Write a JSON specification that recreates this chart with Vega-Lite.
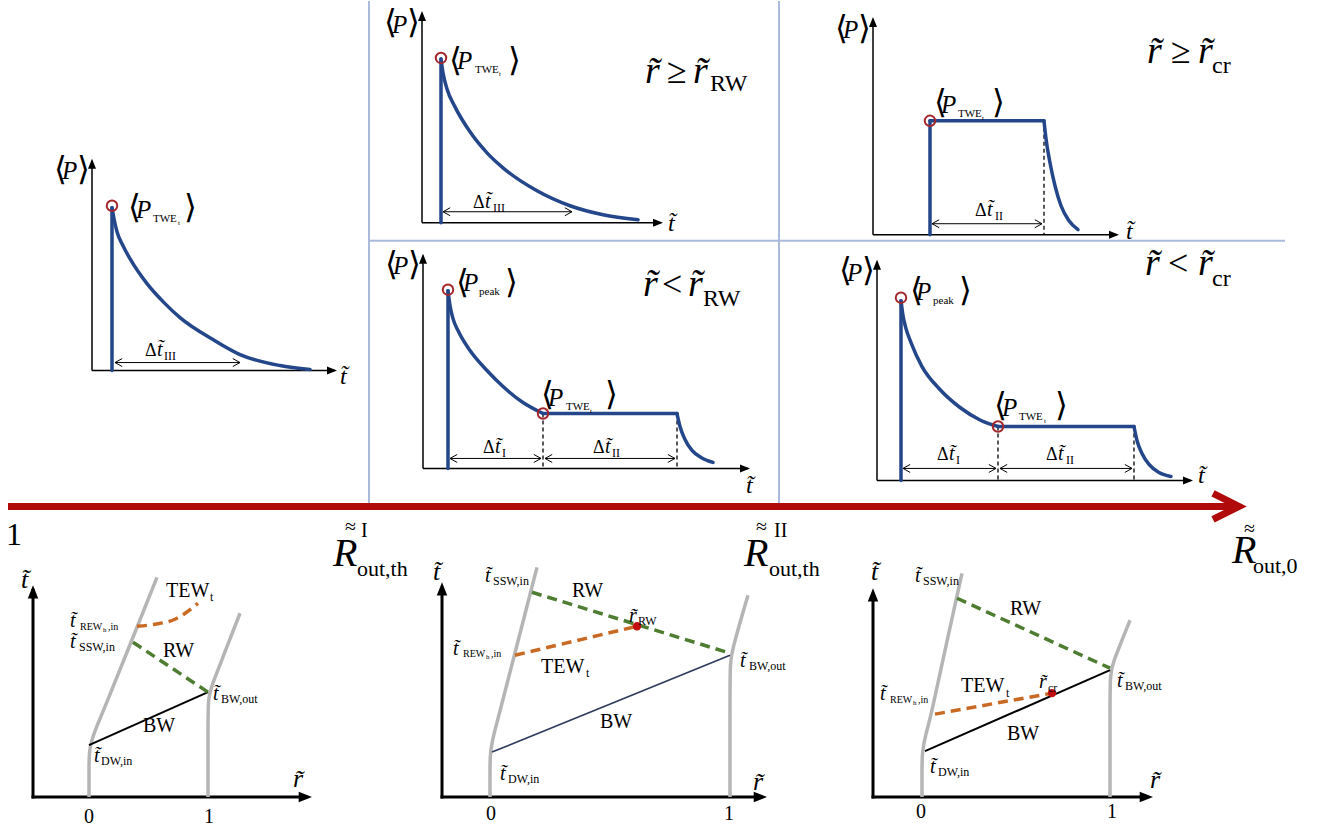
{
"$schema": "https://vega.github.io/schema/vega-lite/v6.json",
"width": 1320, "height": 827,
"autosize": {"type": "fit", "contains": "padding"},
"padding": 0,
"background": "white",
"config": {"view": {"stroke": null}},
"encoding": {
  "x": {"field": "x", "type": "quantitative", "scale": {"domain": [0, 1320], "nice": false, "zero": false}, "axis": null},
  "y": {"field": "y", "type": "quantitative", "scale": {"domain": [0, 827], "nice": false, "zero": false, "reverse": true}, "axis": null}
},
"datasets": {
  "sep": [{"x":369,"y":0,"x2":369,"y2":504},{"x":779,"y":0,"x2":779,"y2":504},{"x":369,"y":240,"x2":1285,"y2":240}],
  "redline": [{"x":8,"y":506,"x2":1234,"y2":506}],
  "redhead": [{"s":1,"o":1,"x":1213,"y":493},{"s":1,"o":2,"x":1239,"y":506},{"s":1,"o":3,"x":1213,"y":519}],
  "thinaxes": [
    {"x":92,"y":370,"x2":92,"y2":160},{"x":92,"y":370,"x2":335,"y2":370},
    {"x":422,"y":222,"x2":422,"y2":12},{"x":422,"y":222,"x2":661,"y2":222},
    {"x":873,"y":234,"x2":873,"y2":18},{"x":873,"y":234,"x2":1117,"y2":234},
    {"x":423,"y":468,"x2":423,"y2":255},{"x":423,"y":468,"x2":748,"y2":468},
    {"x":877,"y":480,"x2":877,"y2":261},{"x":877,"y":480,"x2":1191,"y2":480}],
  "uptop": [{"x":92,"y":158},{"x":422,"y":10},{"x":873,"y":16},{"x":423,"y":253},{"x":877,"y":259}],
  "righttop": [{"x":337,"y":370},{"x":663,"y":222},{"x":1119,"y":234},{"x":750,"y":468},{"x":1193,"y":480}],
  "blue": [
    {"s":1,"o":1,"x":112,"y":370},{"s":1,"o":2,"x":112,"y":207},
    {"s":2,"o":1,"x":112,"y":207},{"s":2,"o":2,"x":114,"y":218},{"s":2,"o":3,"x":117,"y":231},{"s":2,"o":4,"x":123,"y":245},{"s":2,"o":5,"x":130,"y":258},{"s":2,"o":6,"x":147,"y":283},{"s":2,"o":7,"x":165,"y":303},{"s":2,"o":8,"x":180,"y":317},{"s":2,"o":9,"x":213,"y":339},{"s":2,"o":10,"x":240,"y":354},{"s":2,"o":11,"x":280,"y":365},{"s":2,"o":12,"x":310,"y":369},
    {"s":3,"o":1,"x":441,"y":222},{"s":3,"o":2,"x":441,"y":58},
    {"s":4,"o":1,"x":441,"y":58},{"s":4,"o":2,"x":443,"y":72},{"s":4,"o":3,"x":447,"y":88},{"s":4,"o":4,"x":455,"y":106},{"s":4,"o":5,"x":470,"y":131},{"s":4,"o":6,"x":487,"y":152},{"s":4,"o":7,"x":503,"y":167},{"s":4,"o":8,"x":537,"y":190},{"s":4,"o":9,"x":570,"y":205},{"s":4,"o":10,"x":603,"y":214},{"s":4,"o":11,"x":638,"y":219},
    {"s":5,"o":1,"x":930,"y":234},{"s":5,"o":2,"x":930,"y":120},
    {"s":6,"o":1,"x":930,"y":120},{"s":6,"o":2,"x":1044,"y":120},
    {"s":7,"o":1,"x":1044,"y":120},{"s":7,"o":2,"x":1046,"y":138},{"s":7,"o":3,"x":1050,"y":162},{"s":7,"o":4,"x":1055,"y":185},{"s":7,"o":5,"x":1061,"y":205},{"s":7,"o":6,"x":1069,"y":220},{"s":7,"o":7,"x":1078,"y":229},
    {"s":8,"o":1,"x":448,"y":468},{"s":8,"o":2,"x":448,"y":290},
    {"s":9,"o":1,"x":448,"y":290},{"s":9,"o":2,"x":450,"y":305},{"s":9,"o":3,"x":453,"y":318},{"s":9,"o":4,"x":458,"y":330},{"s":9,"o":5,"x":470,"y":350},{"s":9,"o":6,"x":487,"y":370},{"s":9,"o":7,"x":503,"y":386},{"s":9,"o":8,"x":523,"y":402},{"s":9,"o":9,"x":543,"y":413},
    {"s":10,"o":1,"x":543,"y":413},{"s":10,"o":2,"x":677,"y":413},
    {"s":11,"o":1,"x":677,"y":413},{"s":11,"o":2,"x":680,"y":426},{"s":11,"o":3,"x":685,"y":439},{"s":11,"o":4,"x":692,"y":450},{"s":11,"o":5,"x":701,"y":457},{"s":11,"o":6,"x":713,"y":462},
    {"s":12,"o":1,"x":901,"y":480},{"s":12,"o":2,"x":901,"y":300},
    {"s":13,"o":1,"x":901,"y":300},{"s":13,"o":2,"x":903,"y":315},{"s":13,"o":3,"x":906,"y":328},{"s":13,"o":4,"x":911,"y":342},{"s":13,"o":5,"x":922,"y":366},{"s":13,"o":6,"x":939,"y":388},{"s":13,"o":7,"x":960,"y":407},{"s":13,"o":8,"x":981,"y":420},{"s":13,"o":9,"x":998,"y":426},
    {"s":14,"o":1,"x":998,"y":426},{"s":14,"o":2,"x":1134,"y":426},
    {"s":15,"o":1,"x":1134,"y":426},{"s":15,"o":2,"x":1137,"y":440},{"s":15,"o":3,"x":1142,"y":453},{"s":15,"o":4,"x":1149,"y":464},{"s":15,"o":5,"x":1159,"y":472},{"s":15,"o":6,"x":1171,"y":476}],
  "dashv": [{"x":1044,"y":120,"x2":1044,"y2":234},{"x":543,"y":413,"x2":543,"y2":468},{"x":677,"y":413,"x2":677,"y2":468},{"x":998,"y":426,"x2":998,"y2":480},{"x":1134,"y":426,"x2":1134,"y2":480}],
  "darrows": [{"x":115,"y":362,"x2":240,"y2":362},{"x":443,"y":211,"x2":572,"y2":211},{"x":932,"y":223,"x2":1042,"y2":223},{"x":450,"y":458,"x2":541,"y2":458},{"x":545,"y":458,"x2":675,"y2":458},{"x":903,"y":468,"x2":996,"y2":468},{"x":1000,"y":468,"x2":1132,"y2":468}],
  "lchev": [{"x":115,"y":362},{"x":443,"y":211},{"x":932,"y":223},{"x":450,"y":458},{"x":545,"y":458},{"x":903,"y":468},{"x":1000,"y":468}],
  "rchev": [{"x":240,"y":362},{"x":572,"y":211},{"x":1042,"y":223},{"x":541,"y":458},{"x":675,"y":458},{"x":996,"y":468},{"x":1132,"y":468}],
  "circles": [{"x":112,"y":205},{"x":441,"y":57},{"x":930,"y":120},{"x":448,"y":289},{"x":543,"y":413},{"x":901,"y":297},{"x":998,"y":426}],
  "thickaxes": [{"x":33,"y":797,"x2":33,"y2":590},{"x":33,"y":797,"x2":306,"y2":797},{"x":442,"y":797,"x2":442,"y2":588},{"x":442,"y":797,"x2":761,"y2":797},{"x":873,"y":797,"x2":873,"y2":594},{"x":873,"y":797,"x2":1147,"y2":797}],
  "upbot": [{"x":33,"y":585},{"x":442,"y":582},{"x":873,"y":588}],
  "rightbot": [{"x":312,"y":797},{"x":767,"y":797},{"x":1153,"y":797}],
  "gray": [
    {"s":1,"o":1,"x":89,"y":797},{"s":1,"o":2,"x":89,"y":770},{"s":1,"o":3,"x":89,"y":748},{"s":1,"o":4,"x":95,"y":730},{"s":1,"o":5,"x":105,"y":707},{"s":1,"o":6,"x":131,"y":642},{"s":1,"o":7,"x":157,"y":577},
    {"s":2,"o":1,"x":208,"y":797},{"s":2,"o":2,"x":208,"y":730},{"s":2,"o":3,"x":208,"y":697},{"s":2,"o":4,"x":212,"y":685},{"s":2,"o":5,"x":226,"y":649},{"s":2,"o":6,"x":240,"y":613},
    {"s":3,"o":1,"x":490,"y":797},{"s":3,"o":2,"x":490,"y":770},{"s":3,"o":3,"x":490,"y":753},{"s":3,"o":4,"x":494,"y":733},{"s":3,"o":5,"x":499,"y":715},{"s":3,"o":6,"x":518,"y":641},{"s":3,"o":7,"x":537,"y":567},
    {"s":4,"o":1,"x":730,"y":797},{"s":4,"o":2,"x":730,"y":700},{"s":4,"o":3,"x":730,"y":660},{"s":4,"o":4,"x":733,"y":648},{"s":4,"o":5,"x":740,"y":622},{"s":4,"o":6,"x":748,"y":595},
    {"s":5,"o":1,"x":922,"y":797},{"s":5,"o":2,"x":922,"y":770},{"s":5,"o":3,"x":922,"y":752},{"s":5,"o":4,"x":926,"y":733},{"s":5,"o":5,"x":931,"y":716},{"s":5,"o":6,"x":946,"y":645},{"s":5,"o":7,"x":962,"y":573},
    {"s":6,"o":1,"x":1110,"y":797},{"s":6,"o":2,"x":1110,"y":710},{"s":6,"o":3,"x":1110,"y":672},{"s":6,"o":4,"x":1114,"y":660},{"s":6,"o":5,"x":1122,"y":640},{"s":6,"o":6,"x":1130,"y":620}],
  "bw": [{"x":89,"y":745,"x2":208,"y2":692},{"x":925,"y":751,"x2":1110,"y2":670}],
  "bw2": [{"x":492,"y":752,"x2":730,"y2":655}],
  "green": [{"x":133,"y":642,"x2":208,"y2":692},{"x":532,"y":592,"x2":730,"y2":653},{"x":957,"y":598,"x2":1110,"y2":668}],
  "orange": [
    {"s":1,"o":1,"x":137,"y":626},{"s":1,"o":2,"x":155,"y":624},{"s":1,"o":3,"x":175,"y":619},{"s":1,"o":4,"x":198,"y":603},
    {"s":2,"o":1,"x":515,"y":655},{"s":2,"o":2,"x":637,"y":626},
    {"s":3,"o":1,"x":935,"y":714},{"s":3,"o":2,"x":1052,"y":693}],
  "reddots": [{"x":637,"y":626},{"x":1052,"y":693}],
  "t_it25": [{"x":62,"y":178,"t":"P"},{"x":392,"y":32,"t":"P"},{"x":843,"y":37,"t":"P"},{"x":393,"y":273,"t":"P"},{"x":847,"y":280,"t":"P"},
    {"x":136,"y":217,"t":"P"},{"x":457,"y":68,"t":"P"},{"x":941,"y":112,"t":"P"},{"x":548,"y":405,"t":"P"},{"x":1002,"y":416,"t":"P"},
    {"x":463,"y":290,"t":"P"},{"x":916,"y":299,"t":"P"}],
  "t_br": [{"x":54,"y":169,"t":"\u27e8"},{"x":77,"y":169,"t":"\u27e9"},{"x":384,"y":22,"t":"\u27e8"},{"x":407,"y":22,"t":"\u27e9"},{"x":835,"y":28,"t":"\u27e8"},{"x":858,"y":28,"t":"\u27e9"},{"x":385,"y":264,"t":"\u27e8"},{"x":408,"y":264,"t":"\u27e9"},{"x":839,"y":270,"t":"\u27e8"},{"x":862,"y":270,"t":"\u27e9"},
    {"x":128,"y":207,"t":"\u27e8"},{"x":184,"y":207,"t":"\u27e9"},{"x":449,"y":60,"t":"\u27e8"},{"x":508,"y":60,"t":"\u27e9"},{"x":934,"y":102,"t":"\u27e8"},{"x":992,"y":102,"t":"\u27e9"},{"x":541,"y":394,"t":"\u27e8"},{"x":605,"y":394,"t":"\u27e9"},{"x":994,"y":405,"t":"\u27e8"},{"x":1055,"y":405,"t":"\u27e9"},
    {"x":456,"y":282,"t":"\u27e8"},{"x":505,"y":282,"t":"\u27e9"},{"x":910,"y":290,"t":"\u27e8"},{"x":959,"y":290,"t":"\u27e9"}],
  "t_sub11": [{"x":153,"y":221,"t":"TWE"},{"x":475,"y":72,"t":"TWE"},{"x":958,"y":116,"t":"TWE"},{"x":566,"y":409,"t":"TWE"},{"x":1019,"y":420,"t":"TWE"},{"x":479,"y":294,"t":"peak"},{"x":933,"y":303,"t":"peak"}],
  "t_tiny": [{"x":178,"y":224,"t":"t"},{"x":499,"y":75,"t":"t"},{"x":982,"y":119,"t":"t"},{"x":590,"y":412,"t":"t"},{"x":1044,"y":423,"t":"t"},{"x":103,"y":632,"t":"h"},{"x":486,"y":659,"t":"h"},{"x":913,"y":705,"t":"h"}],
  "t_delta": [{"x":145,"y":355,"t":"\u0394"},{"x":473,"y":207,"t":"\u0394"},{"x":975,"y":215,"t":"\u0394"},{"x":483,"y":453,"t":"\u0394"},{"x":593,"y":453,"t":"\u0394"},{"x":937,"y":460,"t":"\u0394"},{"x":1046,"y":460,"t":"\u0394"}],
  "t_it20": [{"x":157,"y":355,"t":"t\u0303"},{"x":485,"y":207,"t":"t\u0303"},{"x":987,"y":215,"t":"t\u0303"},{"x":495,"y":453,"t":"t\u0303"},{"x":605,"y":453,"t":"t\u0303"},{"x":949,"y":460,"t":"t\u0303"},{"x":1058,"y":460,"t":"t\u0303"},
    {"x":70,"y":627,"t":"t\u0303"},{"x":70,"y":648,"t":"t\u0303"},{"x":213,"y":700,"t":"t\u0303"},{"x":94,"y":762,"t":"t\u0303"},
    {"x":485,"y":582,"t":"t\u0303"},{"x":453,"y":655,"t":"t\u0303"},{"x":740,"y":667,"t":"t\u0303"},{"x":500,"y":780,"t":"t\u0303"},
    {"x":915,"y":582,"t":"t\u0303"},{"x":880,"y":700,"t":"t\u0303"},{"x":1117,"y":687,"t":"t\u0303"},{"x":930,"y":773,"t":"t\u0303"},
    {"x":629,"y":622,"t":"r\u0303"},{"x":1039,"y":688,"t":"r\u0303"}],
  "t_sub12": [{"x":164,"y":359,"t":"III"},{"x":493,"y":211,"t":"III"},{"x":995,"y":219,"t":"II"},{"x":502,"y":457,"t":"I"},{"x":612,"y":457,"t":"II"},{"x":956,"y":464,"t":"I"},{"x":1066,"y":464,"t":"II"},
    {"x":79,"y":651,"t":"SSW,in"},{"x":221,"y":703,"t":"BW,out"},{"x":101,"y":765,"t":"DW,in"},{"x":210,"y":601,"t":"t"},
    {"x":493,"y":585,"t":"SSW,in"},{"x":638,"y":625,"t":"RW"},{"x":586,"y":677,"t":"t"},{"x":749,"y":670,"t":"BW,out"},{"x":508,"y":783,"t":"DW,in"},
    {"x":923,"y":585,"t":"SSW,in"},{"x":1006,"y":697,"t":"t"},{"x":1048,"y":692,"t":"cr"},{"x":1125,"y":690,"t":"BW,out"},{"x":938,"y":776,"t":"DW,in"}],
  "t_sub10": [{"x":80,"y":630,"t":"REW"},{"x":108,"y":630,"t":",in"},{"x":463,"y":657,"t":"REW"},{"x":491,"y":657,"t":",in"},{"x":890,"y":703,"t":"REW"},{"x":918,"y":703,"t":",in"}],
  "t_it24": [{"x":340,"y":383,"t":"t\u0303"},{"x":668,"y":230,"t":"t\u0303"},{"x":1126,"y":238,"t":"t\u0303"},{"x":746,"y":493,"t":"t\u0303"},{"x":1198,"y":483,"t":"t\u0303"}],
  "t_it26": [{"x":21,"y":588,"t":"t\u0303"},{"x":293,"y":787,"t":"r\u0303"},{"x":433,"y":580,"t":"t\u0303"},{"x":753,"y":790,"t":"r\u0303"},{"x":871,"y":580,"t":"t\u0303"},{"x":1150,"y":788,"t":"r\u0303"}],
  "t_it38": [{"x":645,"y":82,"t":"r\u0303"},{"x":693,"y":82,"t":"r\u0303"},{"x":1147,"y":62,"t":"r\u0303"},{"x":1198,"y":62,"t":"r\u0303"},{"x":643,"y":295,"t":"r\u0303"},{"x":688,"y":295,"t":"r\u0303"},{"x":1145,"y":274,"t":"r\u0303"},{"x":1198,"y":274,"t":"r\u0303"}],
  "t_op36": [{"x":667,"y":82,"t":"\u2265"},{"x":1171,"y":62,"t":"\u2265"},{"x":662,"y":295,"t":"<"},{"x":1168,"y":274,"t":"<"}],
  "t_sub24": [{"x":710,"y":90,"t":"RW"},{"x":1212,"y":72,"t":"cr"},{"x":703,"y":305,"t":"RW"},{"x":1212,"y":285,"t":"cr"}],
  "t_it40": [{"x":333,"y":566,"t":"R"},{"x":744,"y":566,"t":"R"},{"x":1232,"y":563,"t":"R"}],
  "t_tilde": [{"x":345,"y":533,"t":"\u2248"},{"x":756,"y":533,"t":"\u2248"},{"x":1244,"y":535,"t":"\u2248"}],
  "t_sub22": [{"x":357,"y":576,"t":"out,th"},{"x":769,"y":576,"t":"out,th"},{"x":1253,"y":573,"t":"out,0"}],
  "t_sup20": [{"x":361,"y":537,"t":"I"},{"x":774,"y":537,"t":"II"},{"x":84,"y":823,"t":"0"},{"x":204,"y":823,"t":"1"},{"x":486,"y":820,"t":"0"},{"x":724,"y":820,"t":"1"},{"x":916,"y":818,"t":"0"},{"x":1107,"y":818,"t":"1"}],
  "t_num32": [{"x":6,"y":545,"t":"1"}],
  "t_lbl20": [{"x":166,"y":597,"t":"TEW"},{"x":163,"y":657,"t":"RW"},{"x":143,"y":732,"t":"BW"},{"x":572,"y":597,"t":"RW"},{"x":541,"y":673,"t":"TEW"},{"x":600,"y":728,"t":"BW"},{"x":1010,"y":615,"t":"RW"},{"x":961,"y":692,"t":"TEW"},{"x":1007,"y":740,"t":"BW"}]
},
"layer": [
  {"data": {"name": "sep"}, "mark": {"type": "rule", "color": "#a9badb", "strokeWidth": 2}, "encoding": {"x2": {"field": "x2"}, "y2": {"field": "y2"}}},
  {"data": {"name": "redline"}, "mark": {"type": "rule", "color": "#b00a0a", "strokeWidth": 7}, "encoding": {"x2": {"field": "x2"}, "y2": {"field": "y2"}}},
  {"data": {"name": "redhead"}, "mark": {"type": "line", "color": "#b00a0a", "strokeWidth": 7, "strokeJoin": "miter", "strokeCap": "butt"}, "encoding": {"detail": {"field": "s", "type": "nominal"}, "order": {"field": "o", "type": "quantitative"}}},
  {"data": {"name": "thinaxes"}, "mark": {"type": "rule", "color": "black", "strokeWidth": 1.5}, "encoding": {"x2": {"field": "x2"}, "y2": {"field": "y2"}}},
  {"data": {"name": "uptop"}, "mark": {"type": "point", "shape": "M0,0L0.8,2L-0.8,2Z", "filled": true, "color": "black", "size": 100, "opacity": 1}, "encoding": {}},
  {"data": {"name": "righttop"}, "mark": {"type": "point", "shape": "M0,0L-2,-0.8L-2,0.8Z", "filled": true, "color": "black", "size": 100, "opacity": 1}, "encoding": {}},
  {"data": {"name": "dashv"}, "mark": {"type": "rule", "color": "black", "strokeWidth": 1.3, "strokeDash": [4, 3]}, "encoding": {"x2": {"field": "x2"}, "y2": {"field": "y2"}}},
  {"data": {"name": "darrows"}, "mark": {"type": "rule", "color": "black", "strokeWidth": 1}, "encoding": {"x2": {"field": "x2"}, "y2": {"field": "y2"}}},
  {"data": {"name": "lchev"}, "mark": {"type": "point", "shape": "M1.8,-1L0,0L1.8,1", "filled": false, "color": "black", "strokeWidth": 1, "size": 64, "opacity": 1}, "encoding": {}},
  {"data": {"name": "rchev"}, "mark": {"type": "point", "shape": "M-1.8,-1L0,0L-1.8,1", "filled": false, "color": "black", "strokeWidth": 1, "size": 64, "opacity": 1}, "encoding": {}},
  {"data": {"name": "blue"}, "mark": {"type": "line", "color": "#24468a", "strokeWidth": 3.5, "interpolate": "monotone", "strokeCap": "round"}, "encoding": {"detail": {"field": "s", "type": "nominal"}, "order": {"field": "o", "type": "quantitative"}}},
  {"data": {"name": "circles"}, "mark": {"type": "point", "shape": "circle", "filled": false, "color": "#a5262b", "strokeWidth": 2, "size": 110, "opacity": 1}, "encoding": {}},
  {"data": {"name": "thickaxes"}, "mark": {"type": "rule", "color": "black", "strokeWidth": 3, "strokeCap": "square"}, "encoding": {"x2": {"field": "x2"}, "y2": {"field": "y2"}}},
  {"data": {"name": "upbot"}, "mark": {"type": "point", "shape": "M0,0L0.75,1.9L-0.75,1.9Z", "filled": true, "color": "black", "size": 196, "opacity": 1}, "encoding": {}},
  {"data": {"name": "rightbot"}, "mark": {"type": "point", "shape": "M0,0L-1.9,-0.75L-1.9,0.75Z", "filled": true, "color": "black", "size": 196, "opacity": 1}, "encoding": {}},
  {"data": {"name": "gray"}, "mark": {"type": "line", "color": "#b5b5b5", "strokeWidth": 3.5, "interpolate": "basis"}, "encoding": {"detail": {"field": "s", "type": "nominal"}, "order": {"field": "o", "type": "quantitative"}}},
  {"data": {"name": "bw"}, "mark": {"type": "rule", "color": "black", "strokeWidth": 2}, "encoding": {"x2": {"field": "x2"}, "y2": {"field": "y2"}}},
  {"data": {"name": "bw2"}, "mark": {"type": "rule", "color": "#2e3a5c", "strokeWidth": 1.6}, "encoding": {"x2": {"field": "x2"}, "y2": {"field": "y2"}}},
  {"data": {"name": "green"}, "mark": {"type": "rule", "color": "#4e7d32", "strokeWidth": 3.5, "strokeDash": [10, 6]}, "encoding": {"x2": {"field": "x2"}, "y2": {"field": "y2"}}},
  {"data": {"name": "orange"}, "mark": {"type": "line", "color": "#c96a24", "strokeWidth": 3.5, "strokeDash": [10, 6], "interpolate": "monotone"}, "encoding": {"detail": {"field": "s", "type": "nominal"}, "order": {"field": "o", "type": "quantitative"}}},
  {"data": {"name": "reddots"}, "mark": {"type": "point", "shape": "circle", "filled": true, "color": "#c40d0d", "size": 70, "opacity": 1}, "encoding": {}},
  {"data": {"name": "t_it25"}, "mark": {"type": "text", "align": "left", "baseline": "alphabetic", "font": "Liberation Serif", "fontSize": 25, "fontStyle": "italic", "color": "black"}, "encoding": {"text": {"field": "t", "type": "nominal"}}},
  {"data": {"name": "t_br"}, "mark": {"type": "text", "align": "left", "baseline": "middle", "font": "DejaVu Sans", "fontSize": 33, "fontWeight": 200, "color": "black"}, "encoding": {"text": {"field": "t", "type": "nominal"}}},
  {"data": {"name": "t_sub11"}, "mark": {"type": "text", "align": "left", "baseline": "alphabetic", "font": "Liberation Serif", "fontSize": 11, "color": "black"}, "encoding": {"text": {"field": "t", "type": "nominal"}}},
  {"data": {"name": "t_tiny"}, "mark": {"type": "text", "align": "left", "baseline": "alphabetic", "font": "Liberation Serif", "fontSize": 7, "color": "black"}, "encoding": {"text": {"field": "t", "type": "nominal"}}},
  {"data": {"name": "t_delta"}, "mark": {"type": "text", "align": "left", "baseline": "alphabetic", "font": "Liberation Serif", "fontSize": 18, "color": "black"}, "encoding": {"text": {"field": "t", "type": "nominal"}}},
  {"data": {"name": "t_it20"}, "mark": {"type": "text", "align": "left", "baseline": "alphabetic", "font": "Liberation Serif", "fontSize": 20, "fontStyle": "italic", "color": "black"}, "encoding": {"text": {"field": "t", "type": "nominal"}}},
  {"data": {"name": "t_sub12"}, "mark": {"type": "text", "align": "left", "baseline": "alphabetic", "font": "Liberation Serif", "fontSize": 12, "color": "black"}, "encoding": {"text": {"field": "t", "type": "nominal"}}},
  {"data": {"name": "t_sub10"}, "mark": {"type": "text", "align": "left", "baseline": "alphabetic", "font": "Liberation Serif", "fontSize": 10, "color": "black"}, "encoding": {"text": {"field": "t", "type": "nominal"}}},
  {"data": {"name": "t_it24"}, "mark": {"type": "text", "align": "left", "baseline": "alphabetic", "font": "Liberation Serif", "fontSize": 24, "fontStyle": "italic", "color": "black"}, "encoding": {"text": {"field": "t", "type": "nominal"}}},
  {"data": {"name": "t_it26"}, "mark": {"type": "text", "align": "left", "baseline": "alphabetic", "font": "Liberation Serif", "fontSize": 26, "fontStyle": "italic", "color": "black"}, "encoding": {"text": {"field": "t", "type": "nominal"}}},
  {"data": {"name": "t_it38"}, "mark": {"type": "text", "align": "left", "baseline": "alphabetic", "font": "Liberation Serif", "fontSize": 38, "fontStyle": "italic", "color": "black"}, "encoding": {"text": {"field": "t", "type": "nominal"}}},
  {"data": {"name": "t_op36"}, "mark": {"type": "text", "align": "left", "baseline": "alphabetic", "font": "Liberation Serif", "fontSize": 36, "color": "black"}, "encoding": {"text": {"field": "t", "type": "nominal"}}},
  {"data": {"name": "t_sub24"}, "mark": {"type": "text", "align": "left", "baseline": "alphabetic", "font": "Liberation Serif", "fontSize": 24, "color": "black"}, "encoding": {"text": {"field": "t", "type": "nominal"}}},
  {"data": {"name": "t_it40"}, "mark": {"type": "text", "align": "left", "baseline": "alphabetic", "font": "Liberation Serif", "fontSize": 40, "fontStyle": "italic", "color": "black"}, "encoding": {"text": {"field": "t", "type": "nominal"}}},
  {"data": {"name": "t_tilde"}, "mark": {"type": "text", "align": "left", "baseline": "alphabetic", "font": "Liberation Serif", "fontSize": 20, "color": "black"}, "encoding": {"text": {"field": "t", "type": "nominal"}}},
  {"data": {"name": "t_sub22"}, "mark": {"type": "text", "align": "left", "baseline": "alphabetic", "font": "Liberation Serif", "fontSize": 22, "color": "black"}, "encoding": {"text": {"field": "t", "type": "nominal"}}},
  {"data": {"name": "t_sup20"}, "mark": {"type": "text", "align": "left", "baseline": "alphabetic", "font": "Liberation Serif", "fontSize": 20, "color": "black"}, "encoding": {"text": {"field": "t", "type": "nominal"}}},
  {"data": {"name": "t_num32"}, "mark": {"type": "text", "align": "left", "baseline": "alphabetic", "font": "Liberation Serif", "fontSize": 32, "color": "black"}, "encoding": {"text": {"field": "t", "type": "nominal"}}},
  {"data": {"name": "t_lbl20"}, "mark": {"type": "text", "align": "left", "baseline": "alphabetic", "font": "Liberation Serif", "fontSize": 20, "color": "black"}, "encoding": {"text": {"field": "t", "type": "nominal"}}}
]
}
